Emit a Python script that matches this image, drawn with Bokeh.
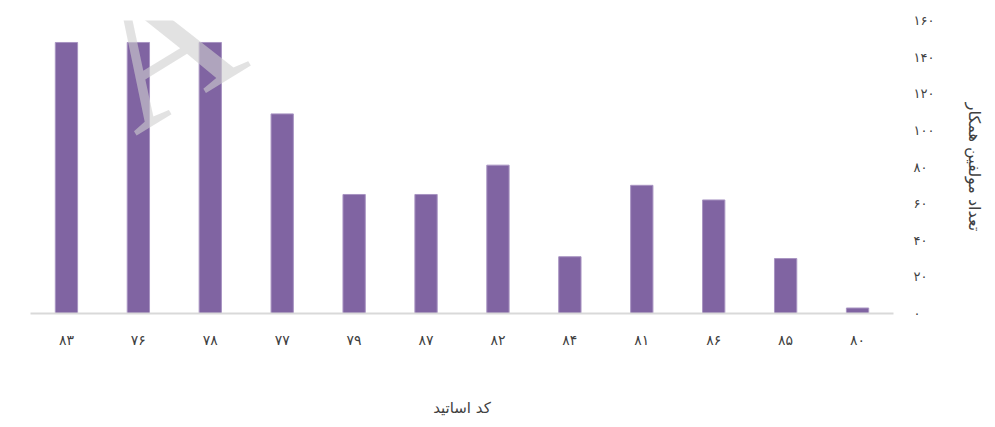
import math
from bokeh.plotting import figure
from bokeh.models import ColumnDataSource, Label, FixedTicker, Range1d
from bokeh.embed import file_html
from bokeh.resources import INLINE

# Data
categories = ["۸۳", "۷۶", "۷۸", "۷۷", "۷۹", "۸۷", "۸۲", "۸۴", "۸۱", "۸۶", "۸۵", "۸۰"]
counts = [148, 148, 148, 109, 65, 65, 81, 31, 70, 62, 30, 3]
y_ticks = [0, 20, 40, 60, 80, 100, 120, 140, 160]
y_tick_labels = ["۰", "۲۰", "۴۰", "۶۰", "۸۰", "۱۰۰", "۱۲۰", "۱۴۰", "۱۶۰"]
series_name = "کد اساتید"
y_title = "تعداد مولفین همکار"

FONT = "DejaVu Sans"
TXT = "#404040"

src = ColumnDataSource(dict(cat=categories, val=counts))

p = figure(x_range=categories, y_range=Range1d(0, 160), width=987, height=419,
           output_backend="svg", toolbar_location=None, y_axis_location="right",
           min_border_left=30, min_border_right=87, min_border_top=20, min_border_bottom=97)
p.outline_line_color = None
p.xgrid.grid_line_color = None
p.ygrid.grid_line_color = None

r = p.vbar(x="cat", top="val", width=0.31, source=src, fill_color="#8064A2",
           line_color="#a894c2", line_width=1)

# x axis (its label carries the series name, as the legend line below the chart)
xa = p.xaxis[0]
xa.axis_line_color = "#d9d9d9"
xa.axis_line_width = 2
xa.major_tick_line_color = None
xa.minor_tick_line_color = None
xa.major_label_standoff = 12
xa.major_label_text_font = FONT
xa.major_label_text_font_size = "14px"
xa.major_label_text_color = TXT
xa.axis_label = series_name
xa.axis_label_standoff = 48
xa.axis_label_text_font = FONT
xa.axis_label_text_font_size = "15px"
xa.axis_label_text_font_style = "normal"
xa.axis_label_text_color = TXT

# y axis (right)
ya = p.yaxis[0]
ya.ticker = FixedTicker(ticks=y_ticks)
ya.major_label_overrides = {t: l for t, l in zip(y_ticks, y_tick_labels)}
ya.axis_line_color = None
ya.major_tick_line_color = None
ya.minor_tick_line_color = None
ya.major_label_standoff = 14
ya.major_label_text_font = FONT
ya.major_label_text_font_size = "13px"
ya.major_label_text_color = TXT
ya.axis_label = y_title
ya.axis_label_standoff = 28
ya.axis_label_text_font = FONT
ya.axis_label_text_font_size = "16px"
ya.axis_label_text_font_style = "normal"
ya.axis_label_text_color = TXT

# watermark
p.add_layout(Label(x=1.8, y=146, text="A", angle=0.55,
                   text_align="center", text_baseline="middle",
                   text_font="Liberation Serif", text_font_size="190px",
                   text_color="#cfcfcf", text_alpha=0.6))

open("out.html", "w").write(file_html(p, INLINE))
